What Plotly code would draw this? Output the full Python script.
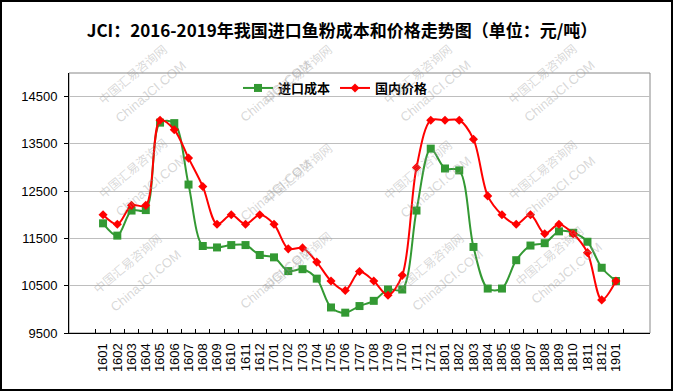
import plotly.graph_objects as go

months = ["1601","1602","1603","1604","1605","1606","1607","1608","1609","1610","1611","1612",
          "1701","1702","1703","1704","1705","1706","1707","1708","1709","1710","1711","1712",
          "1801","1802","1803","1804","1805","1806","1807","1808","1809","1810","1811","1812",
          "1901"]
import_cost = [11820, 11560, 12090, 12100, 13950, 13940, 12640, 11340, 11310, 11360, 11360, 11150,
               11100, 10810, 10850, 10650, 10040, 9930, 10070, 10180, 10420, 10420, 12090, 13400,
               12980, 12940, 11320, 10440, 10440, 11040, 11350, 11400, 11650, 11620, 11430, 10880,
               10600]
domestic_price = [12000, 11800, 12200, 12200, 14000, 13800, 13200, 12600, 11800, 12000, 11800, 12000,
                  11800, 11280, 11300, 11000, 10600, 10400, 10800, 10600, 10300, 10720, 13000, 14000,
                  14000, 14000, 13600, 12400, 12000, 11800, 12000, 11600, 11800, 11600, 11200, 10200,
                  10600]
y_ticks = [9500, 10500, 11500, 12500, 13500, 14500]

title = "JCI：2016-2019年我国进口鱼粉成本和价格走势图（单位：元/吨）"

fig = go.Figure()
fig.add_trace(go.Scatter(
    x=months, y=import_cost, name="进口成本", mode="lines+markers",
    line=dict(color="#339933", width=2, shape="spline", smoothing=0.9),
    marker=dict(symbol="square", size=8, color="#339933"),
))
fig.add_trace(go.Scatter(
    x=months, y=domestic_price, name="国内价格", mode="lines+markers",
    line=dict(color="#FF0000", width=2, shape="spline", smoothing=0.9),
    marker=dict(symbol="diamond", size=7, color="#FF0000"),
))

W, H = 673, 391
L, R, T, B = 69, 23, 73, 58
pw, ph = W - L - R, H - T - B

def px_x(p):
    return (p - L) / pw

def px_y(p):
    return (H - B - p) / ph

# watermarks
wm_pos = [(100, 45), (265, 45), (425, 45), (590, 45),
          (100, 175), (265, 180), (425, 177), (590, 177),
          (95, 307), (265, 305), (437, 307), (597, 300)]
annotations = []
for (cx, cy) in wm_pos:
    annotations.append(dict(
        x=px_x(cx - 8), y=px_y(cy - 8), xref="paper", yref="paper",
        text="中国汇易咨询网", showarrow=False, textangle=-40,
        font=dict(family="Noto Sans CJK SC", size=12, color="rgba(150,150,150,0.38)"),
    ))
    annotations.append(dict(
        x=px_x(cx + 10), y=px_y(cy + 10), xref="paper", yref="paper",
        text="ChinaJCI.COM", showarrow=False, textangle=-40,
        font=dict(family="Liberation Sans", size=13, color="rgba(150,150,150,0.38)"),
    ))

shapes = [
    # plot area border (top/right gray)
    dict(type="rect", xref="paper", yref="paper", x0=0, x1=1, y0=0, y1=1,
         line=dict(color="#888888", width=1), layer="below"),
    # outer frame
    dict(type="rect", xref="paper", yref="paper",
         x0=px_x(1), x1=px_x(672), y0=px_y(390), y1=px_y(1),
         line=dict(color="#000000", width=2)),
]

fig.update_layout(
    width=W, height=H,
    margin=dict(l=L, r=R, t=T, b=B, autoexpand=False),
    paper_bgcolor="white", plot_bgcolor="white",
    title=dict(text=title, x=0.47, xanchor="center", y=1 - 31 / H, yanchor="middle",
               xref="paper", automargin=False,
               font=dict(family="Noto Sans CJK SC", size=17, color="black", weight="bold")),
    legend=dict(orientation="h", x=px_x(238), xanchor="left", y=px_y(88), yanchor="middle",
                font=dict(family="Noto Sans CJK SC", size=13, color="black", weight="bold"),
                bgcolor="rgba(0,0,0,0)", itemwidth=30, tracegroupgap=0),
    showlegend=True,
    annotations=annotations,
    shapes=shapes,
)
fig.update_xaxes(
    type="category", showline=True, linecolor="black", linewidth=1,
    tickmode="array", tickvals=months, ticktext=months,
    ticks="inside", tickson="boundaries", ticklen=4, tickcolor="black",
    tickangle=-90, showgrid=False, automargin=False,
    tickfont=dict(family="Liberation Sans", size=13, color="black"),
    ticklabelstandoff=4,
)
fig.update_yaxes(
    range=[9500, 15000], tickvals=y_ticks, ticktext=[str(v) for v in y_ticks],
    showline=True, linecolor="black", linewidth=1, automargin=False,
    ticks="outside", ticklen=4, tickcolor="black",
    showgrid=True, gridcolor="#BEBEBE", gridwidth=1, zeroline=False,
    tickfont=dict(family="Liberation Sans", size=13, color="black"),
    ticklabelstandoff=4,
)

fig.write_html("out.html", config={"displayModeBar": False},
               post_script="document.body.style.margin='0';document.body.style.overflow='hidden';")
